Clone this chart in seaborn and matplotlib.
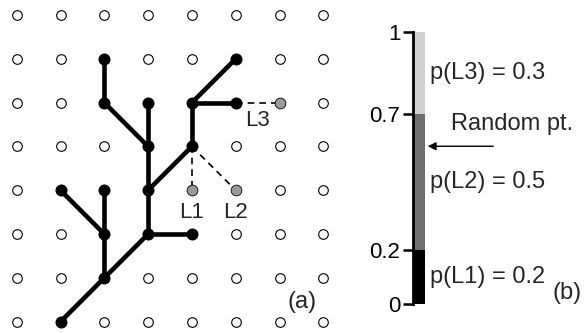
import numpy as np
import pandas as pd
import matplotlib
matplotlib.use("Agg")
import matplotlib.pyplot as plt
import seaborn as sns

# lattice size
n_cols = 8
n_rows = 8

# tree edges (col, row) -> (col, row), row 0 = bottom
tree_edges = [
    ((1, 0), (2, 1)), ((2, 1), (3, 2)), ((2, 1), (2, 2)), ((2, 2), (1, 3)),
    ((2, 2), (2, 3)), ((3, 2), (4, 2)), ((3, 2), (3, 3)), ((3, 3), (3, 4)),
    ((3, 3), (4, 4)), ((3, 4), (3, 5)), ((3, 4), (2, 5)), ((2, 5), (2, 6)),
    ((4, 4), (4, 5)), ((4, 5), (5, 5)), ((4, 5), (5, 6)),
]
# candidate growth links
cand_names = ["L1", "L2", "L3"]
cand_from = [(4, 4), (4, 4), (5, 5)]
cand_to = [(4, 3), (5, 3), (6, 5)]

# probabilities for candidates
probs = [0.2, 0.5, 0.3]
seg_colors = ["#000000", "#6e6e6e", "#d2d2d2"]
random_pt = 0.58

sns.set_theme(style="white")
plt.rcParams["font.family"] = ["Liberation Sans", "DejaVu Sans"]

fig = plt.figure(figsize=(5.87, 3.33), dpi=100)

# ---- panel (a): lattice with tree ----
ax = fig.add_axes([16.7 / 587, 11.3 / 333, 306.6 / 587, 306.7 / 333])
gx, gy = np.meshgrid(np.arange(n_cols), np.arange(n_rows))
grid = pd.DataFrame({"x": gx.ravel(), "y": gy.ravel()})
tree_nodes = sorted({p for e in tree_edges for p in e})
tree_df = pd.DataFrame(tree_nodes, columns=["x", "y"])
grid = grid.merge(tree_df.assign(t=1), how="left", on=["x", "y"])
grid = grid[grid["t"].isna()]
cand_set = set(cand_to)
grid = grid[[(a, b) not in cand_set for a, b in zip(grid["x"], grid["y"])]]

sns.scatterplot(data=grid, x="x", y="y", ax=ax, s=48, facecolor="white",
                edgecolor="black", linewidth=0.8, zorder=1, clip_on=False)

for (x0, y0), (x1, y1) in tree_edges:
    ax.plot([x0, x1], [y0, y1], color="black", lw=3.3, zorder=2,
            solid_capstyle="round", clip_on=False)
for (x0, y0), (x1, y1) in zip(cand_from, cand_to):
    ax.plot([x0, x1], [y0, y1], color="black", lw=1.2, ls=(0, (4, 3)),
            zorder=2, clip_on=False)

sns.scatterplot(data=tree_df, x="x", y="y", ax=ax, s=75, color="black",
                edgecolor="black", linewidth=0, zorder=3, clip_on=False)
cand_df = pd.DataFrame(cand_to, columns=["x", "y"])
sns.scatterplot(data=cand_df, x="x", y="y", ax=ax, s=60, color="#999999",
                edgecolor="black", linewidth=0.6, zorder=3, clip_on=False)

for name, (cx, cy), (fx, fy) in zip(cand_names, cand_to, cand_from):
    if cy != fy:
        ax.text(cx, cy - 0.5, name, ha="center", va="center", fontsize=16)
    else:
        ax.text((cx + fx) / 2, cy - 0.4, name, ha="center", va="center", fontsize=16)
ax.text(6.51, 0.45, "(a)", ha="center", va="center", fontsize=17)

ax.set_xlim(0, n_cols - 1)
ax.set_ylim(0, n_rows - 1)
ax.set_axis_off()

# ---- panel (b): cumulative probability bar ----
bx = fig.add_axes([413 / 587, 29 / 333, 174 / 587, 272 / 333])
bottoms = np.concatenate([[0], np.cumsum(probs)[:-1]])
bx.bar([6.5] * len(probs), probs, bottom=bottoms, width=11, color=seg_colors,
       linewidth=0)
bx.set_xlim(0, 174)
bx.set_ylim(0, 1)
for s in ["top", "right", "bottom"]:
    bx.spines[s].set_visible(False)
bx.spines["left"].set_linewidth(2)
bx.spines["left"].set_color("black")
ticks = [0, 0.2, 0.7, 1]
bx.set_yticks(ticks)
bx.set_yticklabels(["0", "0.2", "0.7", "1"], fontsize=16)
bx.tick_params(axis="y", left=True, length=7, width=1.8, pad=2, colors="black")
bx.set_xticks([])
bx.set_facecolor("none")

for name, p, b in zip(cand_names, probs, bottoms):
    bx.text(17, b + p / 2, f"p({name}) = {p}", ha="left", va="center", fontsize=17)

bx.annotate("", xy=(12, random_pt), xytext=(83, random_pt),
            arrowprops=dict(arrowstyle="-|>", color="black", lw=1.0,
                            mutation_scale=12))
bx.text(38, 0.66, "Random pt.", ha="left", va="center", fontsize=17)
bx.text(139, 0.04, "(b)", ha="left", va="center", fontsize=17)

fig.savefig("out.png", dpi=100)
